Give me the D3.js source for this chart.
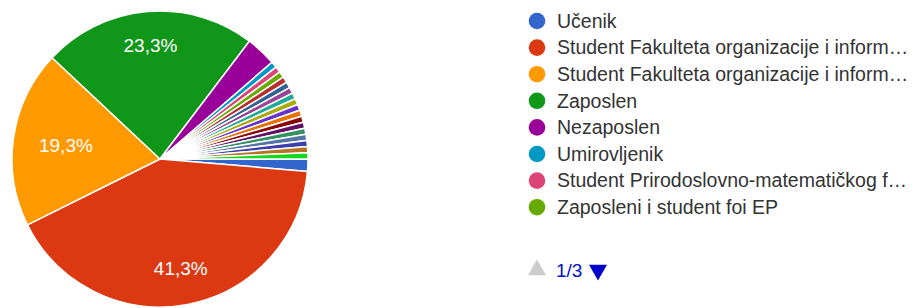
<!DOCTYPE html>
<meta charset="utf-8">
<style>
body { margin: 0; background: #fff; }
svg { display: block; font-family: Arial, "Liberation Sans", sans-serif; }
.slices path { stroke: #fff; stroke-width: 1.5px; }
.labels text { fill: #fff; }
.legend text { fill: #333; }
</style>
<body>
<script src="https://d3js.org/d3.v7.min.js"></script>
<script>

var width = 917,
    height = 308;

// 150 responses, legend order
var categories = [
  "Učenik",
  "Student Fakulteta organizacije i inform…",
  "Student Fakulteta organizacije i inform…",
  "Zaposlen",
  "Nezaposlen",
  "Umirovljenik",
  "Student Prirodoslovno-matematičkog f…",
  "Zaposleni i student foi EP",
  "Odgovor 9", "Odgovor 10", "Odgovor 11", "Odgovor 12", "Odgovor 13",
  "Odgovor 14", "Odgovor 15", "Odgovor 16", "Odgovor 17", "Odgovor 18",
  "Odgovor 19", "Odgovor 20", "Odgovor 21", "Odgovor 22"
];
var counts = [2, 62, 29, 35, 5, 1, 1, 1, 1, 1, 1, 1, 1, 1, 1, 1, 1, 1, 1, 1, 1, 1];
var colors = ["#3366cc", "#dc3912", "#ff9900", "#109618", "#990099", "#0099c6",
  "#dd4477", "#66aa00", "#b82e2e", "#316395", "#994499", "#22aa99", "#aaaa11",
  "#6633cc", "#e67300", "#8b0707", "#651067", "#329262", "#5574a6", "#3b3eac",
  "#b77322", "#16d620"];
var pageLabel = "1/3";
var perPage = 8;

var total = d3.sum(counts);
var data = counts.map(function(v, i) { return {name: categories[i], value: v, i: i}; });

var svg = d3.select("body").append("svg")
    .attr("width", width)
    .attr("height", height);

var cx = 160, cy = 159, r = 148;

var pie = d3.pie()
    .sort(null)
    .value(function(d) { return d.value; })
    .startAngle(Math.PI / 2)
    .endAngle(Math.PI / 2 + 2 * Math.PI);

var arc = d3.arc().innerRadius(0).outerRadius(r);

var color = d3.scaleOrdinal().domain(d3.range(colors.length)).range(colors);

var g = svg.append("g").attr("transform", "translate(" + cx + "," + cy + ")");
var arcs = pie(data);

g.append("g").attr("class", "slices")
  .selectAll("path")
  .data(arcs)
  .enter().append("path")
    .attr("d", arc)
    .attr("fill", function(d) { return color(d.data.i); });

var fmt = function(v) { return (v / total * 100).toFixed(1).replace(".", ",") + "%"; };

var labels = g.append("g").attr("class", "labels")
  .selectAll("text")
  .data(arcs.filter(function(d) { return d.data.value / total > 0.1; }))
  .enter().append("text")
    .attr("text-anchor", "middle")
    .attr("dy", "0.35em")
    .style("font-size", "19px")
    .text(function(d) { return fmt(d.data.value); });

// push each label out until its box reaches ~0.83 of the radius
labels.attr("transform", function(d) {
  var a = (d.startAngle + d.endAngle) / 2,
      dx = Math.sin(a), dy = -Math.cos(a),
      b = this.getBBox(),
      rho = r * 0.83 - (Math.abs(dx) * b.width / 2 + Math.abs(dy) * b.height / 3);
  return "translate(" + (dx * rho) + "," + (dy * rho) + ")";
});

// legend, first page
var legend = svg.append("g").attr("class", "legend")
    .attr("transform", "translate(537,21)");

var row = legend.selectAll("g")
  .data(data.slice(0, perPage))
  .enter().append("g")
    .attr("transform", function(d, i) { return "translate(0," + (i * 26.6) + ")"; });

row.append("circle")
    .attr("r", 8.3)
    .attr("fill", function(d) { return color(d.i); });

row.append("text")
    .attr("x", 20)
    .attr("dy", "0.35em")
    .style("font-size", "19.5px")
    .text(function(d) { return d.name; });

// pager
var pager = svg.append("g").attr("transform", "translate(537,270)");
pager.append("path")
    .attr("d", d3.symbol().type(d3.symbolTriangle).size(140))
    .attr("fill", "#cccccc");
pager.append("text")
    .attr("x", 19)
    .attr("dy", "0.35em")
    .style("font-size", "19px")
    .attr("fill", "#0011cc")
    .text(pageLabel);
pager.append("path")
    .attr("d", d3.symbol().type(d3.symbolTriangle).size(140))
    .attr("transform", "translate(61,0) rotate(180)")
    .attr("fill", "#0000cc");

</script>
</body>
